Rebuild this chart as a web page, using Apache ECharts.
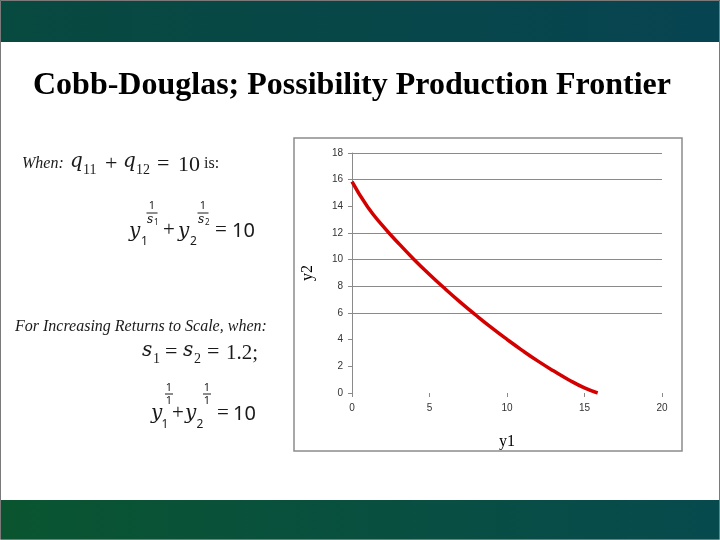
<!DOCTYPE html>
<html>
<head>
<meta charset="utf-8">
<script src="https://cdn.jsdelivr.net/npm/echarts@6/dist/echarts.min.js"></script>
<style>
  html, body { margin: 0; padding: 0; background: #fff; }
  #main { width: 720px; height: 540px; }
</style>
</head>
<body>
<div id="main"></div>
<script>
// data
var y1Values = [0, 1, 2, 3, 4, 5, 6, 7, 8, 9, 10, 11, 12, 13, 14, 15, 15.85];
var y2Values = [15.85, 13.97, 12.52, 11.23, 10.02, 8.89, 7.82, 6.8, 5.83, 4.9, 4.02, 3.18, 2.39, 1.66, 0.98, 0.38, 0];
var yTicks = [0, 2, 4, 6, 8, 10, 12, 14, 16, 18];
var xTicks = [0, 5, 10, 15, 20];
// grid lines that show in the picture
var visibleGrid = [6, 8, 10, 12, 16, 18];

var myChart = echarts.init(document.getElementById('main'));

var points = y1Values.map(function (v, i) { return [v, y2Values[i]]; });
var gridColors = yTicks.map(function (t) {
    return visibleGrid.indexOf(t) >= 0 ? '#8a8a8a' : 'rgba(0,0,0,0)';
});

var VAR = 'DejaVu Serif';      // math italic letters
var SER = 'Liberation Serif';
var SANS = 'Noto Sans';
var INK = '#1a1a1a';

function txt(x, y, s, size, font, italic, align) {
    return {
        type: 'text', x: x, y: y, z: 10,
        style: {
            text: s, fontSize: size, fontFamily: font,
            fontStyle: italic ? 'italic' : 'normal',
            fill: INK, align: align || 'left', verticalAlign: 'middle'
        }
    };
}
function bar(x1, x2, y) {
    return { type: 'line', z: 10, shape: { x1: x1, y1: y, x2: x2, y2: y }, style: { stroke: INK, lineWidth: 1 } };
}
// small exponent fraction: top over bottom, centred at cx
function frac(cx, yTop, yBar, yBot, w, bottom) {
    var out = [txt(cx, yTop, '1', 11, SANS, false, 'center'), bar(cx - w / 2, cx + w / 2, yBar)];
    if (bottom) {
        out.push(txt(cx - 5, yBot, 's', 12, VAR, true));
        out.push(txt(cx + 2, yBot + 3, bottom, 8, SANS));
    } else {
        out.push(txt(cx, yBot, '1', 11, SANS, false, 'center'));
    }
    return out;
}

var slide = [
    // header / footer bands
    { type: 'rect', shape: { x: 0, y: 0, width: 720, height: 42 },
      style: { fill: { type: 'linear', x: 0, y: 0, x2: 1, y2: 0,
        colorStops: [{ offset: 0, color: '#074a3f' }, { offset: 1, color: '#074452' }] } } },
    { type: 'rect', shape: { x: 0, y: 500, width: 720, height: 39 },
      style: { fill: { type: 'linear', x: 0, y: 0, x2: 1, y2: 0,
        colorStops: [{ offset: 0, color: '#0a5530' }, { offset: 1, color: '#074a4e' }] } } },
    { type: 'rect', shape: { x: 0.5, y: 0.5, width: 719, height: 539 },
      style: { fill: null, stroke: '#7a7a7a', lineWidth: 1 } },
    // chart frame
    { type: 'rect', shape: { x: 294, y: 138, width: 388, height: 313 },
      style: { fill: null, stroke: '#8c8c8c', lineWidth: 1.5 } },
    // title
    { type: 'text', x: 33, y: 86,
      style: { text: 'Cobb-Douglas; Possibility Production Frontier', fontSize: 32,
        fontWeight: 'bold', fontFamily: SER, fill: '#000', verticalAlign: 'middle' } },

    // When: q11 + q12 = 10 is:
    txt(22, 164, 'When:', 16, SER, true),
    txt(70, 162, 'q', 20, VAR, true),
    txt(83, 170, '11', 14, SER),
    txt(105, 164, '+', 22, SER),
    txt(123, 162, 'q', 20, VAR, true),
    txt(136, 170, '12', 14, SER),
    txt(157, 164, '=', 22, SER),
    txt(178, 165, '10', 22, SER),
    txt(204, 164, 'is:', 16, SER),

    // y1^(1/s1) + y2^(1/s2) = 10
    txt(129, 232, 'y', 20, VAR, true),
    txt(141, 242, '1', 12, SANS),
    txt(163, 230, '+', 21, SER),
    txt(178, 232, 'y', 20, VAR, true),
    txt(190, 242, '2', 12, SANS),
    txt(215, 230, '=', 21, SER),
    txt(232, 231, '10', 20, SANS)
].concat(
    frac(152, 206, 213, 220, 11, '1'),
    frac(203, 206, 213, 220, 11, '2'),
    [
    // For Increasing Returns to Scale
    txt(15, 327, 'For Increasing Returns to Scale, when:', 16, SER, true),
    txt(142, 351, 's', 20, VAR, true),
    txt(153, 359, '1', 14, SER),
    txt(165, 352, '=', 22, SER),
    txt(183, 351, 's', 20, VAR, true),
    txt(194, 359, '2', 14, SER),
    txt(207, 352, '=', 22, SER),
    txt(226, 353, '1.2;', 21, SER),

    // y1^(1/1) + y2^(1/1) = 10
    txt(151, 414, 'y', 20, VAR, true),
    txt(165, 425, '1', 12, SANS, false, 'center'),
    txt(172, 413, '+', 21, SER),
    txt(185, 414, 'y', 20, VAR, true),
    txt(200, 425, '2', 12, SANS, false, 'center'),
    txt(217, 413, '=', 21, SER),
    txt(233, 414, '10', 20, SANS)
    ],
    frac(169, 388, 394, 401, 8),
    frac(207, 388, 394, 401, 8)
);

var option = {
    animation: false,
    graphic: slide,
    grid: { left: 352, top: 153, right: 58, bottom: 147, containLabel: false },
    xAxis: {
        type: 'value', min: 0, max: 20, interval: 5,
        name: 'y1', nameLocation: 'middle', nameGap: 41,
        nameTextStyle: { fontFamily: SER, fontSize: 16, color: '#000' },
        axisLine: { show: false },
        axisTick: { show: true, length: 4, lineStyle: { color: '#8a8a8a' } },
        axisLabel: { margin: 10, fontSize: 10, color: '#333', fontFamily: 'Liberation Sans',
            customValues: xTicks },
        splitLine: { show: false }
    },
    yAxis: {
        type: 'value', min: 0, max: 18, interval: 2,
        name: 'y2', nameLocation: 'middle', nameGap: 36,
        nameTextStyle: { fontFamily: SER, fontSize: 16, color: '#000' },
        axisLine: { show: true, lineStyle: { color: '#8a8a8a', width: 1 } },
        axisTick: { show: true, length: 4, lineStyle: { color: '#8a8a8a' } },
        axisLabel: { margin: 9, fontSize: 10, color: '#333', fontFamily: 'Liberation Sans' },
        splitLine: { show: true, lineStyle: { color: gridColors, width: 1 } }
    },
    series: [{
        type: 'line',
        data: points,
        smooth: true,
        showSymbol: false,
        lineStyle: { color: '#d40000', width: 3.5 },
        z: 5
    }]
};
myChart.setOption(option);
</script>
</body>
</html>
